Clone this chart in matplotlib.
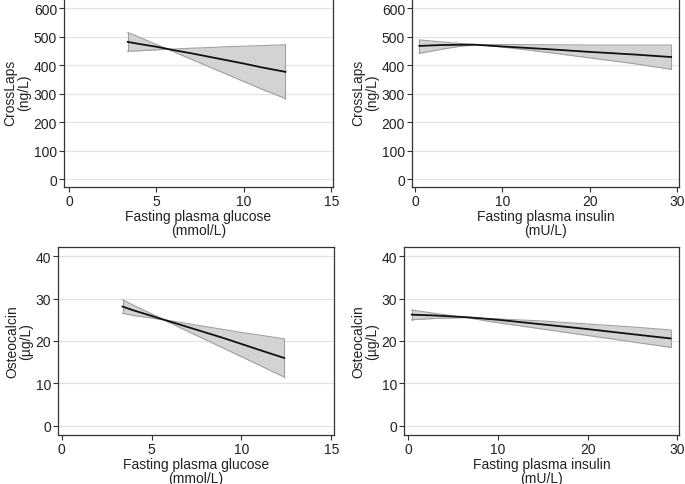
import matplotlib
matplotlib.use("Agg")
import matplotlib.pyplot as plt
import numpy as np

plt.rcParams['font.family'] = ['Liberation Sans', 'DejaVu Sans']

# ---- data: top-left, CrossLaps vs glucose ----
glu_x = [3.36, 4, 5, 5.5, 6, 7, 8, 9, 10, 11, 12.38]
cl_glu_fit = [481, 474, 464, 458, 452, 441, 429, 417, 405, 392, 376]
cl_glu_ci_a = [514, 498, 472, 459, 446, 420, 394, 368, 342, 316, 282]
cl_glu_ci_b = [448, 450, 453, 455, 456, 459, 461, 464, 466, 468, 471]

# ---- top-right, CrossLaps vs insulin ----
ins_x = [0.5, 3, 5, 7, 10, 15, 20, 25, 29.3]
cl_ins_fit = [467, 470, 471, 471, 465, 456, 446, 437, 428]
cl_ins_ci_a = [488, 481, 476, 472, 463, 445, 425, 405, 385]
cl_ins_ci_b = [441, 455, 465, 471, 472, 471, 470, 470, 470]

# ---- bottom-left, Osteocalcin vs glucose ----
glu_x2 = [3.38, 4, 5, 5.3, 6, 7, 8, 9, 10, 11, 12.38]
oc_glu_fit = [28.1, 27.2, 25.9, 25.5, 24.6, 23.3, 22.0, 20.7, 19.3, 17.9, 16.0]
oc_glu_ci_a = [29.7, 28.4, 26.4, 25.8, 24.3, 22.3, 20.3, 18.3, 16.3, 14.3, 11.5]
oc_glu_ci_b = [26.5, 26.0, 25.4, 25.2, 24.8, 24.1, 23.4, 22.7, 22.0, 21.4, 20.5]

# ---- bottom-right, Osteocalcin vs insulin ----
ins_x2 = [0.38, 3, 6.5, 10, 15, 20, 25, 29.25]
oc_ins_fit = [26.2, 26.0, 25.6, 25.0, 23.9, 22.8, 21.6, 20.6]
oc_ins_ci_a = [27.3, 26.5, 25.5, 24.3, 22.8, 21.3, 19.8, 18.5]
oc_ins_ci_b = [25.0, 25.3, 25.5, 25.2, 24.7, 24.0, 23.3, 22.6]

x_labels = ["Fasting plasma glucose\n(mmol/L)", "Fasting plasma insulin\n(mU/L)"]
y_labels = ["CrossLaps\n(ng/L)", "Osteocalcin\n(µg/L)"]
cl_ticks = [0, 100, 200, 300, 400, 500, 600]
oc_ticks = [0, 10, 20, 30, 40]
glu_ticks = [0, 5, 10, 15]
ins_ticks = [0, 10, 20, 30]

W, H = 685, 485
fig = plt.figure(figsize=(W / 100, H / 100), dpi=100)


def add_ax(left, right, top, bottom):
    return fig.add_axes([left / W, 1 - bottom / H, (right - left) / W, (bottom - top) / H])


panels = [
    dict(box=(64, 333, -2.4, 188), xlim=(-0.29, 15.1), ylim=(-28, 640),
         x=glu_x, fit=cl_glu_fit, a=cl_glu_ci_a, b=cl_glu_ci_b,
         xt=glu_ticks, yt=cl_ticks, xl=x_labels[0], yl=y_labels[0]),
    dict(box=(412, 679, -2.4, 188), xlim=(-0.34, 30.2), ylim=(-28, 640),
         x=ins_x, fit=cl_ins_fit, a=cl_ins_ci_a, b=cl_ins_ci_b,
         xt=ins_ticks, yt=cl_ticks, xl=x_labels[1], yl=y_labels[0]),
    dict(box=(58, 334, 248, 436), xlim=(-0.21, 15.15), ylim=(-2.12, 42.12),
         x=glu_x2, fit=oc_glu_fit, a=oc_glu_ci_a, b=oc_glu_ci_b,
         xt=glu_ticks, yt=oc_ticks, xl=x_labels[0], yl=y_labels[1]),
    dict(box=(404, 679, 248, 436), xlim=(-0.48, 30.19), ylim=(-2.12, 42.12),
         x=ins_x2, fit=oc_ins_fit, a=oc_ins_ci_a, b=oc_ins_ci_b,
         xt=ins_ticks, yt=oc_ticks, xl=x_labels[1], yl=y_labels[1]),
]

for p in panels:
    l, r, t, b = p['box']
    ax = add_ax(l, r, t, b)
    ax.set_xlim(*p['xlim'])
    ax.set_ylim(*p['ylim'])
    ax.set_xticks(p['xt'])
    ax.set_yticks(p['yt'])
    ax.grid(axis='y', color='#e3e3e3', linewidth=0.9)
    ax.set_axisbelow(True)
    x = np.array(p['x'])
    ax.fill_between(x, p['a'], p['b'], color='#d3d3d3', linewidth=0, zorder=2)
    ax.plot(x, p['a'], color='#a0a0a0', linewidth=0.8, zorder=3)
    ax.plot(x, p['b'], color='#a0a0a0', linewidth=0.8, zorder=3)
    ax.plot([x[0], x[0]], [p['a'][0], p['b'][0]], color='#a0a0a0', linewidth=0.8, zorder=3)
    ax.plot([x[-1], x[-1]], [p['a'][-1], p['b'][-1]], color='#a0a0a0', linewidth=0.8, zorder=3)
    ax.plot(x, p['fit'], color='#111111', linewidth=1.3, zorder=4)
    for s in ax.spines.values():
        s.set_color('#333333')
        s.set_linewidth(0.9)
    ax.tick_params(direction='out', length=3.5, width=0.8, color='#333333',
                   labelsize=10, labelcolor='#222222', pad=1.5)
    ax.set_xlabel(p['xl'], fontsize=10, color='#222222', labelpad=1, linespacing=0.95)
    ax.set_ylabel(p['yl'], fontsize=10, color='#222222', labelpad=2, linespacing=0.95)

fig.savefig("out.png", dpi=100)
